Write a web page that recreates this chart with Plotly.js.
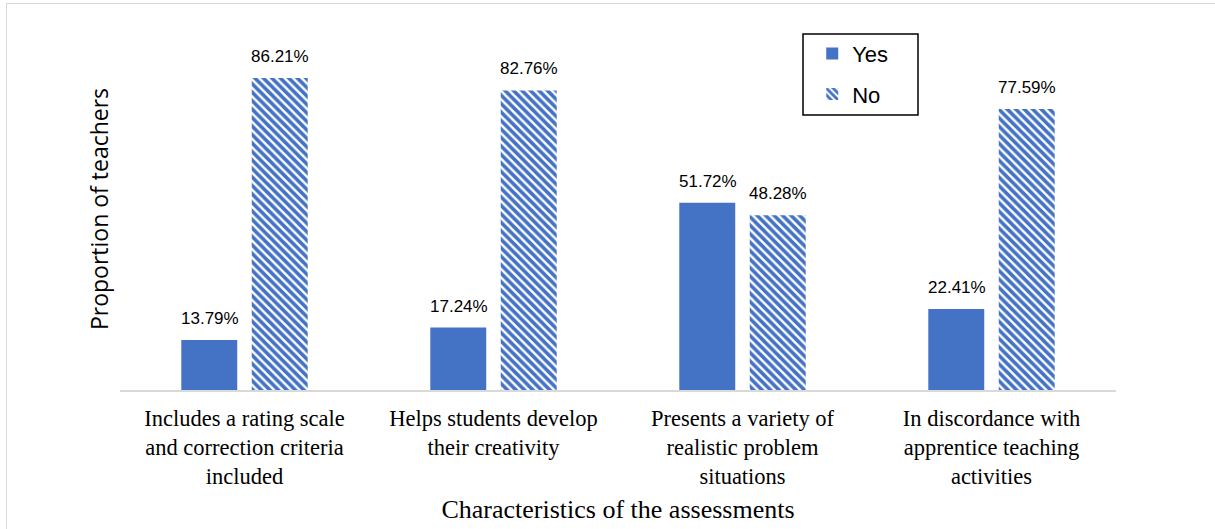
<!DOCTYPE html>
<html>
<head>
<meta charset="utf-8">
<script src="https://cdn.plot.ly/plotly-3.0.1.min.js"></script>
<style>
  html, body { margin: 0; padding: 0; background: #fff; }
  #wrap { position: relative; width: 1215px; height: 529px; overflow: hidden; }
  #frame { position: absolute; left: 6px; top: 3px; width: 1230px; height: 560px; border: 1px solid #d9d9d9; box-sizing: border-box; pointer-events: none; }
  #chart { position: absolute; left: 0; top: 0; width: 1215px; height: 529px; }
</style>
</head>
<body>
<div id="wrap">
  <div id="chart"></div>
  <div id="frame"></div>
</div>
<script>
const categories = [
  "Includes a rating scale<br>and correction criteria<br>included",
  "Helps students develop<br>their creativity",
  "Presents a variety of<br>realistic problem<br>situations",
  "In discordance with<br>apprentice teaching<br>activities"
];
const yesValues = [13.79, 17.24, 51.72, 22.41];
const noValues = [86.21, 82.76, 48.28, 77.59];
const seriesNames = ["Yes", "No"];

const blue = "#4472C4";

const traces = [
  {
    type: "bar", name: seriesNames[0], x: categories, y: yesValues,
    marker: { color: blue, line: { width: 0 } },
    hoverinfo: "skip", legendgroup: "g0"
  },
  {
    type: "bar", name: seriesNames[1], x: categories, y: noValues,
    marker: {
      color: "#ffffff",
      line: { width: 0 },
      pattern: { shape: "\\", fgcolor: blue, fgopacity: 1, bgcolor: "#ffffff", size: 6, solidity: 0.6, fillmode: "replace" }
    },
    hoverinfo: "skip", legendgroup: "g1"
  }
];

const annotations = [];
[yesValues, noValues].forEach((vals, si) => {
  vals.forEach((v, i) => {
    annotations.push({
      x: categories[i], y: v, xref: "x", yref: "y",
      text: v.toFixed(2) + "%",
      showarrow: false, yanchor: "bottom",
      xshift: si === 0 ? -35 : 35.5, yshift: 10,
      font: { family: "Liberation Sans, Arial, sans-serif", size: 17, color: "#000" }
    });
  });
});

const layout = {
  width: 1215, height: 529,
  margin: { l: 120, r: 99, t: 28, b: 139 },
  paper_bgcolor: "rgba(0,0,0,0)",
  plot_bgcolor: "rgba(0,0,0,0)",
  barmode: "group",
  bargap: 0.434,
  bargroupgap: 0.206,
  showlegend: true,
  legend: {
    x: 0.695, y: 0.987, xanchor: "left", yanchor: "top",
    bgcolor: "rgba(0,0,0,0)", borderwidth: 0,
    font: { family: "Liberation Sans, Arial, sans-serif", size: 22, color: "#000" },
    traceorder: "grouped", tracegroupgap: 9
  },
  xaxis: {
    type: "category",
    showline: true, linecolor: "#d9d9d9", linewidth: 1.5,
    ticks: "outside", ticklen: 7, tickcolor: "rgba(0,0,0,0)",
    showgrid: false, zeroline: false,
    tickfont: { family: "Liberation Serif, Times New Roman, serif", size: 22.5, color: "#000" },
    title: {
      text: "Characteristics of the assessments",
      font: { family: "Liberation Serif, Times New Roman, serif", size: 26, color: "#000" },
      standoff: 12
    },
    automargin: false
  },
  yaxis: {
    range: [0, 100],
    showticklabels: false, showgrid: false, zeroline: false, showline: false, ticks: "",
    title: {
      text: "Proportion of teachers",
      font: { family: "Open Sans, Liberation Sans, sans-serif", size: 23, color: "#000" },
      standoff: 3
    },
    automargin: false
  },
  annotations: annotations,
  shapes: [{
    type: "rect", xref: "paper", yref: "paper",
    x0: (803 - 120) / 996, x1: (918 - 120) / 996,
    y0: (390 - 115) / 362, y1: (390 - 34) / 362,
    line: { color: "#000", width: 1.5 }, fillcolor: "rgba(0,0,0,0)"
  }],
  font: { family: "Liberation Sans, Arial, sans-serif", color: "#000" }
};

Plotly.newPlot("chart", traces, layout, { displayModeBar: false, staticPlot: true });
</script>
</body>
</html>
